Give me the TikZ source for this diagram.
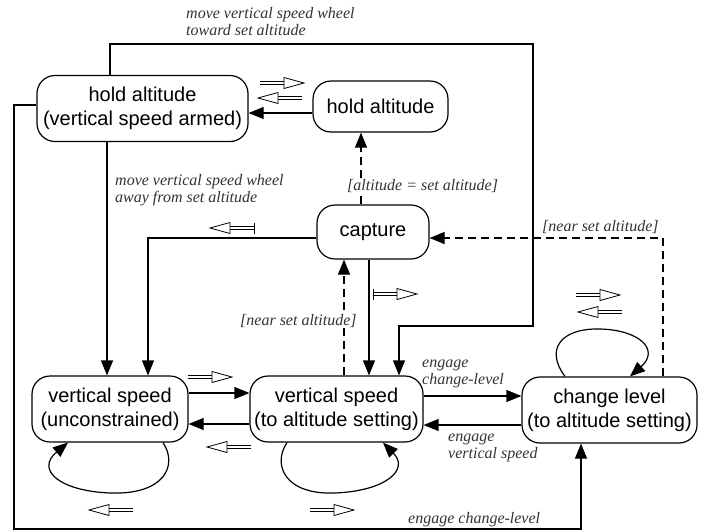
\documentclass[tikz,border=0pt]{standalone}
\usepackage{fontspec}
\setmainfont{Liberation Sans}
\newfontfamily\labfont{Liberation Serif}
\usetikzlibrary{arrows.meta}
\begin{document}
\begin{tikzpicture}[x=1pt,y=-1pt,
  state/.style={draw, line width=1.2pt, rounded corners=18pt, align=center,
    font=\fontsize{20}{24}\selectfont, inner sep=0pt},
  conn/.style={line width=1.2pt, -{Triangle[length=15pt,width=12pt]}},
  dsh/.style={conn, dash pattern=on 8pt off 5pt},
  lbl/.style={font=\labfont\itshape\fontsize{16}{17}\selectfont, text=black!80,
    align=left, anchor=base west, inner sep=0pt},
  hr/.pic={
    \draw[line width=0.8pt] (-24,-1.7)--(0,-1.7) (-24,1.7)--(0,1.7);
    \draw[line width=0.8pt, fill=white] (0,-5.5)--(20,0)--(0,5.5)--cycle;},
  hrbar/.pic={
    \draw[line width=0.8pt] (-24,-1.7)--(0,-1.7) (-24,1.7)--(0,1.7);
    \draw[line width=0.8pt] (-24,-5.5)--(-24,5.5);
    \draw[line width=0.8pt, fill=white] (0,-5.5)--(20,0)--(0,5.5)--cycle;},
]
\useasboundingbox (0,0) rectangle (702,531);

% states
\node[state, minimum width=211pt, minimum height=66pt] (armed) at (142.5,108.5) {hold altitude\\(vertical speed armed)};
\node[state, minimum width=135pt, minimum height=51pt] (hold) at (380.5,106.5) {hold altitude};
\node[state, minimum width=112pt, minimum height=54pt] (capture) at (373,232) {capture};
\node[state, minimum width=156pt, minimum height=66pt] (vsu) at (110,409) {vertical speed\\(unconstrained)};
\node[state, minimum width=173pt, minimum height=66pt] (vsa) at (336.5,409) {vertical speed\\(to altitude setting)};
\node[state, minimum width=175pt, minimum height=66pt] (cl) at (609.5,410) {change level\\(to altitude setting)};

% connectors
\draw[conn] (hold.west |- 0,113) -- (armed.east |- 0,113);
\draw[conn] (armed.north -| 110,0) -- (110,44) -- (533,44) -- (533,326) -- (399,326) -- (vsa.north -| 399,0);
\draw[conn] (armed.south -| 107,0) -- (vsu.north -| 107,0);
\draw[conn] (armed.west |- 0,105) -- (14,105) -- (14,529) -- (581,529) -- (cl.south -| 581,0);
\draw[conn] (capture.west |- 0,238) -- (148,238) -- (vsu.north -| 148,0);
\draw[dsh] (capture.north -| 361,0) -- (hold.south -| 361,0);
\draw[dsh] (vsa.north -| 344,0) -- (capture.south -| 344,0);
\draw[conn] (capture.south -| 369,0) -- (vsa.north -| 369,0);
\draw[dsh] (cl.north -| 663,0) -- (663,238) -- (capture.east |- 0,238);
\draw[conn] (vsu.east |- 0,393) -- (vsa.west |- 0,393);
\draw[conn] (vsa.west |- 0,424) -- (vsu.east |- 0,424);
\draw[conn] (vsa.east |- 0,396) -- (cl.west |- 0,396);
\draw[conn] (cl.west |- 0,425) -- (vsa.east |- 0,425);

% self loops
\draw[conn] (vsu.south -| 163,0) .. controls (178,465) and (165,495) .. (110,493)
  .. controls (60,491) and (35,470) .. (vsu.south -| 68,0);
\draw[conn] (vsa.south -| 287,0) .. controls (272,465) and (285,495) .. (335,493)
  .. controls (385,491) and (410,470) .. (vsa.south -| 383,0);
\draw[conn] (cl.north -| 565,0) .. controls (545,350) and (560,328) .. (600,329)
  .. controls (640,330) and (660,350) .. (cl.north -| 630,0);

% hollow event arrows
\pic at (284,83) {hr};
\pic[rotate=180] at (278,98) {hr};
\pic[rotate=180] at (230,228) {hrbar};
\pic at (397,294) {hrbar};
\pic at (212,377) {hr};
\pic[rotate=180] at (227,447) {hr};
\pic[rotate=180] at (109,510) {hr};
\pic at (334,510) {hr};
\pic at (600,295) {hr};
\pic[rotate=180] at (598,312) {hr};

% labels (anchor = baseline of last line)
\node[lbl] (l1) at (186,35) {move vertical speed wheel\\toward set altitude};
\node[lbl] (l2) at (115,202) {move vertical speed wheel\\away from set altitude};
\node[lbl, fill=white] (l3) at (347,190) {[altitude = set altitude]};
\node[lbl, fill=white] (l4) at (240,325) {[near set altitude]};
\node[lbl] (l5) at (542,231) {[near set altitude]};
\node[lbl] (l6) at (422,384) {engage\\change-level};
\node[lbl] (l7) at (448,458) {engage\\vertical speed};
\node[lbl] (l8) at (408,523) {engage change-level};
\end{tikzpicture}
\end{document}
